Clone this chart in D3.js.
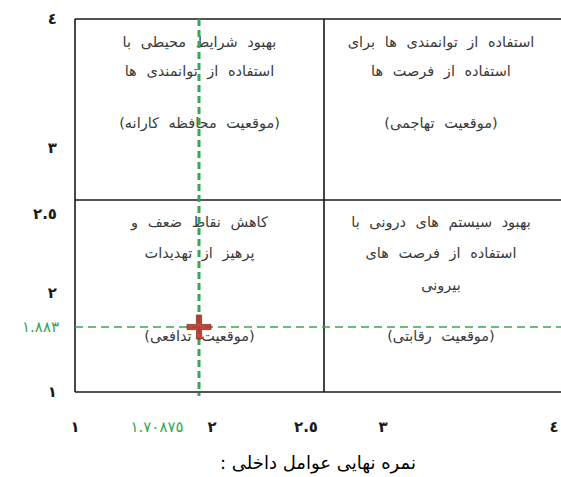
<!DOCTYPE html>
<html>
<head>
<meta charset="utf-8">
<script src="https://cdn.jsdelivr.net/npm/d3@7"></script>
<style>
  body { margin: 0; background: #fff; }
  svg { display: block; font-family: "DejaVu Sans", sans-serif; }
</style>
</head>
<body>
<script>
const w = 561;
const h = 477;

// axis ticks (internal score on x, external score on y)
const xTicks = [1, 2, 2.5, 3, 4];
const yTicks = [1, 2, 2.5, 3, 4];

// final scores
const internalScore = 1.70875;
const externalScore = 1.883;

// quadrant texts, top-left, top-right, bottom-left, bottom-right
const quadTL = ['بهبود شرایط محیطی با', 'استفاده از توانمندی ها', '', '(موقعیت محافظه کارانه)'];
const quadTR = ['استفاده از توانمندی ها برای', 'استفاده از فرصت ها', '', '(موقعیت تهاجمی)'];
const quadBL = ['کاهش نقاط ضعف و', 'پرهیز از تهدیدات', '', '(موقعیت تدافعی)'];
const quadBR = ['بهبود سیستم های درونی با', 'استفاده از فرصت های', 'بیرونی', '(موقعیت رقابتی)'];

const xTitle = 'نمره نهایی عوامل داخلی :';

const green = '#34a853';
const fa = n => String(n).replace(/[0-9]/g, d => '٠١٢٣٤٥٦٧٨٩'[d]);

// the source figure is hand drawn, so the scales are piecewise
const x = d3.scaleLinear()
  .domain([1, internalScore, 2, 2.5, 3, 4])
  .range([75, 199, 212, 324, 383, 558]);

const y = d3.scaleLinear()
  .domain([1, externalScore, 2, 2.5, 3, 4])
  .range([392, 327, 293, 200, 148, 19]);

const svg = d3.select('body').append('svg')
  .attr('width', w)
  .attr('height', h)
  .attr('viewBox', [0, 0, w, h]);

// frame and quadrant lines
const frame = svg.append('g')
  .attr('stroke', '#1a1a1a')
  .attr('stroke-width', 1.6);

frame.append('line')
  .attr('x1', x(1)).attr('x2', w)
  .attr('y1', y(4)).attr('y2', y(4));
frame.append('line')
  .attr('x1', x(1)).attr('x2', w)
  .attr('y1', y(1)).attr('y2', y(1));
frame.append('line')
  .attr('x1', x(1)).attr('x2', w)
  .attr('y1', y(2.5)).attr('y2', y(2.5));
frame.append('line')
  .attr('x1', x(1)).attr('x2', x(1))
  .attr('y1', y(4)).attr('y2', y(1));
frame.append('line')
  .attr('x1', x(2.5)).attr('x2', x(2.5))
  .attr('y1', y(4)).attr('y2', y(1));

// quadrant texts
const quads = [
  {lines: quadTL, cx: (x(1) + x(2.5)) / 2, top: y(4), dy: [28, 57, 0, 109]},
  {lines: quadTR, cx: (x(2.5) + x(4)) / 2, top: y(4), dy: [28, 57, 0, 109]},
  {lines: quadBL, cx: (x(1) + x(2.5)) / 2, top: y(2.5), dy: [27, 58, 0, 141]},
  {lines: quadBR, cx: (x(2.5) + x(4)) / 2, top: y(2.5), dy: [27, 58, 90, 141]}
];

quads.forEach(q => {
  svg.append('g')
    .selectAll('text')
    .data(q.lines)
    .join('text')
      .attr('x', q.cx)
      .attr('y', (d, i) => q.top + q.dy[i])
      .attr('text-anchor', 'middle')
      .attr('direction', 'rtl')
      .attr('fill', '#3a3a3a')
      .style('font-size', '14.5px')
      .style('word-spacing', '5px')
      .text(d => d);
});

// dashed score lines
svg.append('line')
  .attr('x1', x(1)).attr('x2', w)
  .attr('y1', y(externalScore)).attr('y2', y(externalScore))
  .attr('stroke', green)
  .attr('stroke-width', 1.6)
  .attr('stroke-dasharray', '8,5');

svg.append('line')
  .attr('x1', x(internalScore)).attr('x2', x(internalScore))
  .attr('y1', y(4)).attr('y2', y(1) + 4)
  .attr('stroke', green)
  .attr('stroke-width', 3)
  .attr('stroke-dasharray', '7,4');

// the point marker, a plus
const px = x(internalScore);
const py = y(externalScore);
const arm = 12;
const t = 2.6;
svg.append('path')
  .attr('d', `M${px - t},${py - arm}H${px + t}V${py - t}H${px + arm}V${py + t}H${px + t}V${py + arm}H${px - t}V${py + t}H${px - arm}V${py - t}H${px - t}Z`)
  .attr('fill', '#b8372a')
  .attr('stroke', '#7a1c14')
  .attr('stroke-width', 0.8)
  .attr('opacity', 0.9);

// tick labels
const labelNudge = v => (v === 2.5 ? -18 : v === 4 ? -4 : 0);

svg.append('g')
  .selectAll('text')
  .data(xTicks)
  .join('text')
    .attr('x', d => x(d) + labelNudge(d))
    .attr('y', 432)
    .attr('text-anchor', 'middle')
    .attr('fill', '#1a1a1a')
    .style('font-size', '15px')
    .style('font-weight', 'bold')
    .style('letter-spacing', '2px')
    .text(d => fa(d));

svg.append('g')
  .selectAll('text')
  .data(yTicks)
  .join('text')
    .attr('x', 57)
    .attr('y', d => y(d) + (d === 2.5 ? 14 : 0) + 5)
    .attr('text-anchor', 'end')
    .attr('fill', '#1a1a1a')
    .style('font-size', '15px')
    .style('font-weight', 'bold')
    .style('letter-spacing', '2px')
    .text(d => fa(d));

// score labels
svg.append('text')
  .attr('x', x(internalScore) - 42)
  .attr('y', 432)
  .attr('text-anchor', 'middle')
  .attr('fill', green)
  .style('font-size', '15px')
  .style('letter-spacing', '4px')
  .text(fa(internalScore));

svg.append('text')
  .attr('x', 59)
  .attr('y', y(externalScore) + 5)
  .attr('text-anchor', 'end')
  .attr('fill', green)
  .style('font-size', '15px')
  .style('letter-spacing', '4px')
  .text(fa(externalScore));

// axis title
svg.append('text')
  .attr('x', 318)
  .attr('y', 469)
  .attr('text-anchor', 'middle')
  .attr('direction', 'rtl')
  .attr('fill', '#000')
  .style('font-size', '18px')
  .text(xTitle);
</script>
</body>
</html>
